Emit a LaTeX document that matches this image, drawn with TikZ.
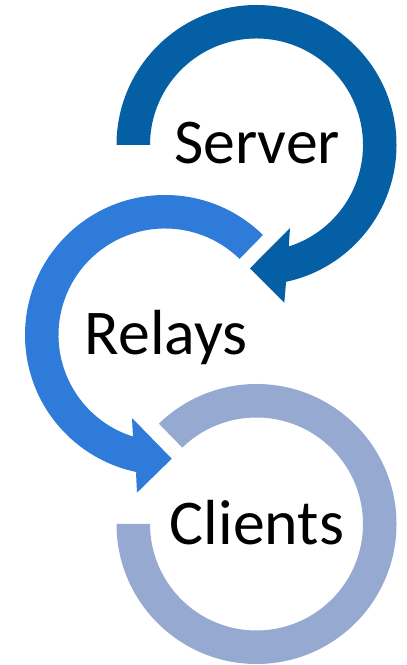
\documentclass[tikz,border=0pt]{standalone}
\usepackage{fontspec}
\setmainfont{Carlito}
\definecolor{srv}{HTML}{045FA5}
\definecolor{rel}{HTML}{2E7BD9}
\definecolor{cli}{HTML}{96A9D0}
\tikzset{
  ringshape/.style={draw=none},
  lbl/.style={inner sep=0pt,anchor=base,text=black,font=\fontsize{64}{72}\selectfont}
}
\begin{document}
\begin{tikzpicture}[x=1bp,y=1bp]
\useasboundingbox (0,0) rectangle (406,665);
% Server arrow
\fill[ringshape,srv] ([shift={(180:140)}]256.5,520) arc[start angle=180,end angle=-78,radius=140]
  -- (286,382.3) -- (284.3,362.3) -- (250,396.7) -- (290,437) -- (288.7,417.3)
  -- ([shift={(-72.6:106.5)}]256.5,520) arc[start angle=-72.6,end angle=180,radius=106.5] -- cycle;
% Relays arrow
\fill[ringshape,rel] ([shift={(45.6:140)}]165,330) arc[start angle=45.6,end angle=258.5,radius=140]
  -- (136,192.3) -- (137,172.3) -- (171.7,206.3) -- (132,247) -- (133,227.3)
  -- ([shift={(253.5:106.5)}]165,330) arc[start angle=253.5,end angle=45.6,radius=106.5] -- cycle;
% Clients ring
\fill[ringshape,cli] ([shift={(180:140)}]256.5,141) arc[start angle=180,end angle=494.2,radius=140]
  -- ([shift={(494.2:106.5)}]256.5,141) arc[start angle=494.2,end angle=180,radius=106.5] -- cycle;
\node[lbl] (server) at (257,501.5) {Server};
\node[lbl] (relays) at (166,310.5) {Relays};
\node[lbl] (clients) at (257,120.5) {Clients};
\end{tikzpicture}
\end{document}
